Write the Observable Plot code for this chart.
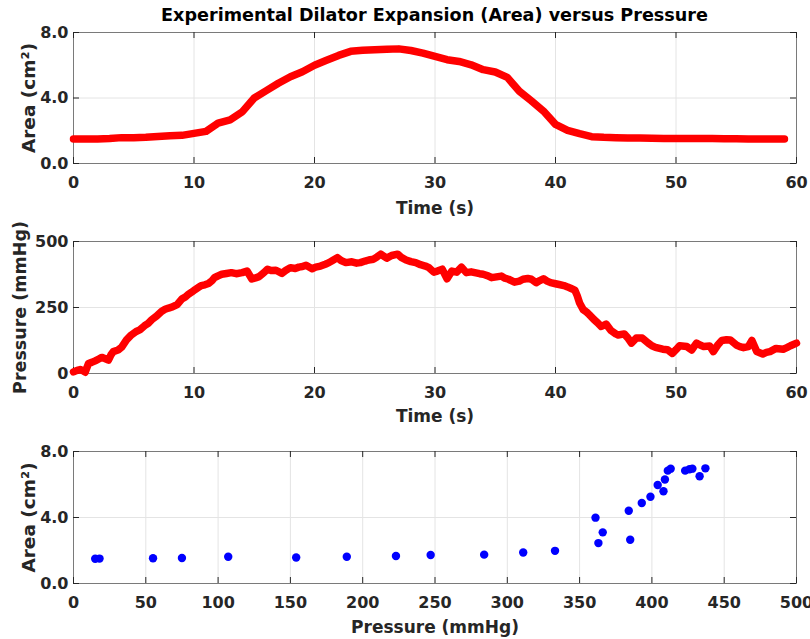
<!DOCTYPE html>
<html>
<head>
<meta charset="utf-8">
<script src="https://cdn.jsdelivr.net/npm/d3@7"></script>
<script src="https://cdn.jsdelivr.net/npm/@observablehq/plot@0.6"></script>
<style>
  html, body { margin: 0; padding: 0; background: #fff; }
  #chart { position: relative; width: 810px; height: 639px; overflow: hidden; font-family: "DejaVu Sans", sans-serif; }
  #title { position: absolute; left: 73px; width: 723px; top: 5px; text-align: center; font-weight: bold; font-size: 17.6px; color: #000; white-space: nowrap; }
  .panel { position: absolute; left: 0; }
  .panel svg { overflow: visible; }
</style>
</head>
<body>
<div id="chart">
  <div id="title">Experimental Dilator Expansion (Area) versus Pressure</div>
</div>
<script>
// ---- Data ----
const areaTime = [0,1,2,3,4,5,6,7,8,9,10,11,12,13,14,15,16,17,18,19,20,21,22,23,24,25,26,27,28,29,
  30,31,32,33,34,35,36,37,38,39,40,41,42,43,44,45,46,47,48,49,50,51,52,53,54,55,56,57,58,59];
const areaValues = [1.50,1.50,1.50,1.52,1.58,1.57,1.60,1.65,1.70,1.72,
  1.84,1.96,2.47,2.67,3.15,4.00,4.45,4.90,5.30,5.60,
  6.00,6.30,6.60,6.85,6.92,6.95,6.97,7.00,6.90,6.74,
  6.54,6.34,6.23,6.03,5.73,5.59,5.26,4.41,3.82,3.20,
  2.39,2.02,1.82,1.64,1.60,1.58,1.56,1.55,1.54,1.53,
  1.53,1.52,1.52,1.52,1.51,1.51,1.50,1.50,1.50,1.50];

const pressureTime = [0.0,0.3,0.55,0.8,0.97,1.25,1.5,1.8,2.1,2.35,2.6,2.9,3.1,3.3,3.7,4.0,4.4,4.8,5.2,5.5,
  5.9,6.2,6.5,6.9,7.3,7.6,7.9,8.2,8.6,9.0,9.3,9.5,9.8,10.1,10.4,10.6,10.9,11.2,11.5,11.7,
  12.0,12.3,12.7,13.1,13.5,14.0,14.4,14.8,15.1,15.4,15.8,16.1,16.4,16.8,17.3,17.6,18.0,18.4,18.7,19.0,
  19.3,19.8,20.1,20.5,20.9,21.2,21.5,21.9,22.2,22.6,23.1,23.5,23.8,24.2,24.5,24.9,25.2,25.5,25.8,26.0,
  26.4,26.9,27.2,27.6,28.0,28.4,28.8,29.2,29.5,29.9,30.2,30.6,31.0,31.4,31.8,32.2,32.6,33.0,33.3,33.7,
  34.0,34.4,34.7,35.1,35.5,35.8,36.1,36.6,37.0,37.3,37.7,38.0,38.4,38.7,39.0,39.3,39.6,40.0,40.3,40.7,
  41.0,41.3,41.6,41.8,42.0,42.3,42.6,42.8,43.2,43.5,43.8,44.2,44.6,45.0,45.2,45.7,46.0,46.3,46.7,47.2,
  47.7,48.0,48.3,48.9,49.3,49.7,50.0,50.3,50.9,51.3,51.7,52.0,52.3,52.8,53.1,53.5,53.8,54.2,54.5,55.0,
  55.3,55.6,56.0,56.3,56.7,57.2,57.5,57.8,58.3,58.9,59.2,59.5,60.0];
const pressureValues = [6,12,15,10,5,38,42,48,55,61,57,51,70,83,89,100,127,146,159,165,
  181,190,204,218,235,243,248,252,261,283,290,299,308,318,327,333,336,341,352,363,
  370,376,379,382,378,382,388,358,362,367,382,395,390,391,379,390,401,398,403,405,
  410,397,403,407,414,420,428,439,428,420,423,418,420,426,430,433,442,452,443,437,
  447,452,440,430,424,420,412,407,401,384,388,395,359,388,384,403,382,385,382,378,
  376,370,363,366,369,361,357,346,350,357,360,357,344,352,359,350,344,340,337,333,
  328,322,316,295,267,242,232,223,204,192,178,187,163,150,146,150,135,115,134,134,
  115,105,99,92,90,76,90,105,102,89,115,108,102,104,83,110,125,128,127,108,
  102,98,102,125,83,74,80,83,95,92,98,105,115];

const scatterPressure = [15,18,55,75,107,154,189,223,247,284,311,333,361,363,366,384,385,393,399,404,408,409,411,413,423,426,428,433,437];
const scatterArea = [1.50,1.51,1.53,1.55,1.62,1.58,1.62,1.67,1.73,1.75,1.88,1.98,3.99,2.45,3.10,4.41,2.65,4.88,5.26,5.97,5.59,6.30,6.84,6.96,6.84,6.92,6.96,6.50,6.98];

const timeTicks = [0,10,20,30,40,50,60];
const areaTicks = [0,4,8];
const pressureTicks = [0,250,500];
const pressureAxisTicks = [0,50,100,150,200,250,300,350,400,450,500];

// ---- Layout constants ----
const ML = 73, MR = 14, TL = 6, W = 810;
const TXT = "#262626";

function panel(o) {
  const fh = o.height - o.mt - o.mb;
  const fw = W - ML - MR;
  return Plot.plot({
    width: W, height: o.height,
    marginTop: o.mt, marginBottom: o.mb, marginLeft: ML, marginRight: MR,
    x: {domain: o.xDomain, axis: null},
    y: {domain: o.yDomain, axis: null},
    style: {fontFamily: "'DejaVu Sans', sans-serif", fontWeight: "bold", color: TXT, background: "transparent", overflow: "visible"},
    marks: [
      Plot.gridX(o.xTicks, {stroke: "#e4e4e4", strokeOpacity: 1}),
      Plot.gridY(o.yTicks, {stroke: "#e4e4e4", strokeOpacity: 1}),
      Plot.frame({stroke: "#7a7a7a"}),
      Plot.tickX(o.xTicks, {x: d => d, insetBottom: fh - TL, stroke: TXT}),
      Plot.tickX(o.xTicks, {x: d => d, insetTop: fh - TL, stroke: TXT}),
      Plot.tickY(o.yTicks, {y: d => d, insetRight: fw - TL, stroke: TXT}),
      Plot.tickY(o.yTicks, {y: d => d, insetLeft: fw - TL, stroke: TXT}),
      ...o.marks,
      Plot.axisX({ticks: o.xTicks, tickSize: 0, tickPadding: 13, fontSize: 16, tickFormat: o.xFmt, label: null, fill: TXT}),
      Plot.axisY({ticks: o.yTicks, tickSize: 0, tickPadding: 5, fontSize: 16, tickFormat: o.yFmt, label: null, fill: TXT}),
      Plot.text([o.xLabel], {text: d => d, frameAnchor: "bottom", textAnchor: "middle", dy: o.xLabelDy, lineAnchor: "bottom", fontSize: 17, fontWeight: "bold", fill: TXT}),
      Plot.text([o.yLabel], {text: d => d, frameAnchor: "left", textAnchor: "middle", rotate: -90, dx: o.yLabelDx, lineAnchor: "bottom", fontSize: o.yLabelSize, fontWeight: "bold", fill: TXT})
    ]
  });
}

const areaRows = areaTime.map((t, i) => ({t, a: areaValues[i]}));
const pressureRows = pressureTime.map((t, i) => ({t, p: pressureValues[i]}));
const scatterRows = scatterPressure.map((p, i) => ({p, a: scatterArea[i]}));

const p1 = panel({
  height: 225, mt: 32, mb: 62,
  xDomain: [0, 60], yDomain: [0, 8],
  xTicks: timeTicks, yTicks: areaTicks,
  xFmt: d => String(d), yFmt: d => d.toFixed(1),
  xLabel: "Time (s)", xLabelDy: 50,
  yLabel: "Area (cm²)", yLabelDx: -39, yLabelSize: 18.5,
  marks: [Plot.line(areaRows, {x: "t", y: "a", stroke: "#ff0000", strokeWidth: 7.5, strokeLinejoin: "round", strokeLinecap: "round"})]
});
const p2 = panel({
  height: 205, mt: 16, mb: 57,
  xDomain: [0, 60], yDomain: [0, 500],
  xTicks: timeTicks, yTicks: pressureTicks,
  xFmt: d => String(d), yFmt: d => String(d),
  xLabel: "Time (s)", xLabelDy: 48,
  yLabel: "Pressure (mmHg)", yLabelDx: -48, yLabelSize: 17.5,
  marks: [Plot.line(pressureRows, {x: "t", y: "p", stroke: "#ff0000", strokeWidth: 7.5, strokeLinejoin: "round", strokeLinecap: "round"})]
});
const p3 = panel({
  height: 209, mt: 21, mb: 56,
  xDomain: [0, 500], yDomain: [0, 8],
  xTicks: pressureAxisTicks, yTicks: areaTicks,
  xFmt: d => String(d), yFmt: d => d.toFixed(1),
  xLabel: "Pressure (mmHg)", xLabelDy: 49,
  yLabel: "Area (cm²)", yLabelDx: -39, yLabelSize: 18.5,
  marks: [Plot.dot(scatterRows, {x: "p", y: "a", r: 4.2, fill: "#0000ff", stroke: "none"})]
});

const chart = document.getElementById("chart");
[[p1, 0], [p2, 225], [p3, 430]].forEach(([svg, top]) => {
  const div = document.createElement("div");
  div.className = "panel";
  div.style.top = top + "px";
  div.appendChild(svg);
  chart.appendChild(div);
});
</script>
</body>
</html>
